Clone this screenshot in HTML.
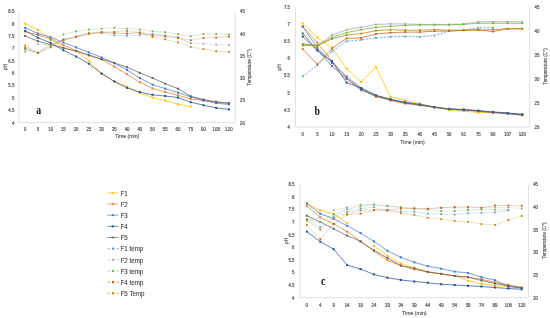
<!DOCTYPE html>
<html><head><meta charset="utf-8"><style>
html,body{margin:0;padding:0;background:#fff;}
body{width:550px;height:318px;overflow:hidden;}
svg{display:block;will-change:transform;}
text{font-family:"Liberation Sans",sans-serif;font-size:5.6px;fill:#555;stroke:#555;stroke-width:0.15px;}
text.tk{font-size:5.0px;stroke:#555;stroke-width:0.22px;}
text.leg{font-size:6.5px;fill:#3c3c3c;stroke:#3c3c3c;stroke-width:0.1px;}
text.lab{font-family:"Liberation Serif",serif;font-weight:bold;font-size:11.6px;fill:#111;stroke:none;}
</style></head><body>
<svg width="550" height="318" viewBox="0 0 550 318">
<rect width="550" height="318" fill="#fff"/>
<path d="M18.80 11.30V122.50H235.30V11.30" fill="none" stroke="#D9D9D9" stroke-width="0.8"/>
<text transform="translate(14.30 124.50) scale(0.87 1)" text-anchor="end" class="tk">4</text>
<text transform="translate(14.30 112.14) scale(0.87 1)" text-anchor="end" class="tk">4.5</text>
<text transform="translate(14.30 99.79) scale(0.87 1)" text-anchor="end" class="tk">5</text>
<text transform="translate(14.30 87.43) scale(0.87 1)" text-anchor="end" class="tk">5.5</text>
<text transform="translate(14.30 75.08) scale(0.87 1)" text-anchor="end" class="tk">6</text>
<text transform="translate(14.30 62.72) scale(0.87 1)" text-anchor="end" class="tk">6.5</text>
<text transform="translate(14.30 50.37) scale(0.87 1)" text-anchor="end" class="tk">7</text>
<text transform="translate(14.30 38.01) scale(0.87 1)" text-anchor="end" class="tk">7.5</text>
<text transform="translate(14.30 25.66) scale(0.87 1)" text-anchor="end" class="tk">8</text>
<text transform="translate(14.30 13.30) scale(0.87 1)" text-anchor="end" class="tk">8.5</text>
<text transform="translate(240.00 124.50) scale(0.87 1)" class="tk">20</text>
<text transform="translate(240.00 102.26) scale(0.87 1)" class="tk">25</text>
<text transform="translate(240.00 80.02) scale(0.87 1)" class="tk">30</text>
<text transform="translate(240.00 57.78) scale(0.87 1)" class="tk">35</text>
<text transform="translate(240.00 35.54) scale(0.87 1)" class="tk">40</text>
<text transform="translate(240.00 13.30) scale(0.87 1)" class="tk">45</text>
<text transform="translate(25.17 131.40) scale(0.87 1)" text-anchor="middle" class="tk">0</text>
<text transform="translate(37.90 131.40) scale(0.87 1)" text-anchor="middle" class="tk">5</text>
<text transform="translate(50.64 131.40) scale(0.87 1)" text-anchor="middle" class="tk">10</text>
<text transform="translate(63.37 131.40) scale(0.87 1)" text-anchor="middle" class="tk">15</text>
<text transform="translate(76.11 131.40) scale(0.87 1)" text-anchor="middle" class="tk">20</text>
<text transform="translate(88.84 131.40) scale(0.87 1)" text-anchor="middle" class="tk">25</text>
<text transform="translate(101.58 131.40) scale(0.87 1)" text-anchor="middle" class="tk">30</text>
<text transform="translate(114.31 131.40) scale(0.87 1)" text-anchor="middle" class="tk">35</text>
<text transform="translate(127.05 131.40) scale(0.87 1)" text-anchor="middle" class="tk">40</text>
<text transform="translate(139.79 131.40) scale(0.87 1)" text-anchor="middle" class="tk">45</text>
<text transform="translate(152.52 131.40) scale(0.87 1)" text-anchor="middle" class="tk">50</text>
<text transform="translate(165.26 131.40) scale(0.87 1)" text-anchor="middle" class="tk">55</text>
<text transform="translate(177.99 131.40) scale(0.87 1)" text-anchor="middle" class="tk">60</text>
<text transform="translate(190.73 131.40) scale(0.87 1)" text-anchor="middle" class="tk">75</text>
<text transform="translate(203.46 131.40) scale(0.87 1)" text-anchor="middle" class="tk">90</text>
<text transform="translate(216.20 131.40) scale(0.87 1)" text-anchor="middle" class="tk">108</text>
<text transform="translate(228.93 131.40) scale(0.87 1)" text-anchor="middle" class="tk">120</text>
<text transform="translate(127.05 138.30) scale(0.92 1)" text-anchor="middle">Time (min)</text>
<text transform="translate(4.80 67.00) rotate(-90) scale(0.87 1)" text-anchor="middle" y="1.9">pH</text>
<text transform="translate(248.70 67.50) rotate(-90) scale(0.85 1)" text-anchor="middle" y="1.9">Temperature (C°)</text>
<path d="M25.17 23.66 L37.90 29.83 L50.64 38.98 L63.37 48.12 L76.11 51.08 L88.84 60.72 L101.58 73.57 L114.31 81.48 L127.05 86.67 L139.79 93.09 L152.52 97.54 L165.26 100.51 L177.99 104.21 L190.73 106.44" fill="none" stroke="#FFC000" stroke-width="0.75"/>
<rect x="24.17" y="22.66" width="2.0" height="2.0" fill="#FFC000"/>
<rect x="36.90" y="28.83" width="2.0" height="2.0" fill="#FFC000"/>
<rect x="49.64" y="37.98" width="2.0" height="2.0" fill="#FFC000"/>
<rect x="62.37" y="47.12" width="2.0" height="2.0" fill="#FFC000"/>
<rect x="75.11" y="50.08" width="2.0" height="2.0" fill="#FFC000"/>
<rect x="87.84" y="59.72" width="2.0" height="2.0" fill="#FFC000"/>
<rect x="100.58" y="72.57" width="2.0" height="2.0" fill="#FFC000"/>
<rect x="113.31" y="80.48" width="2.0" height="2.0" fill="#FFC000"/>
<rect x="126.05" y="85.67" width="2.0" height="2.0" fill="#FFC000"/>
<rect x="138.79" y="92.09" width="2.0" height="2.0" fill="#FFC000"/>
<rect x="151.52" y="96.54" width="2.0" height="2.0" fill="#FFC000"/>
<rect x="164.26" y="99.51" width="2.0" height="2.0" fill="#FFC000"/>
<rect x="176.99" y="103.21" width="2.0" height="2.0" fill="#FFC000"/>
<rect x="189.73" y="105.44" width="2.0" height="2.0" fill="#FFC000"/>
<path d="M25.17 31.56 L37.90 35.02 L50.64 38.98 L63.37 44.91 L76.11 50.84 L88.84 55.53 L101.58 59.49 L114.31 66.65 L127.05 74.31 L139.79 82.22 L152.52 88.40 L165.26 91.86 L177.99 95.32 L190.73 99.02 L203.46 100.51 L216.20 102.24 L228.93 103.23" fill="none" stroke="#ED7D31" stroke-width="0.75"/>
<rect x="24.17" y="30.56" width="2.0" height="2.0" fill="#ED7D31"/>
<rect x="36.90" y="34.02" width="2.0" height="2.0" fill="#ED7D31"/>
<rect x="49.64" y="37.98" width="2.0" height="2.0" fill="#ED7D31"/>
<rect x="62.37" y="43.91" width="2.0" height="2.0" fill="#ED7D31"/>
<rect x="75.11" y="49.84" width="2.0" height="2.0" fill="#ED7D31"/>
<rect x="87.84" y="54.53" width="2.0" height="2.0" fill="#ED7D31"/>
<rect x="100.58" y="58.49" width="2.0" height="2.0" fill="#ED7D31"/>
<rect x="113.31" y="65.65" width="2.0" height="2.0" fill="#ED7D31"/>
<rect x="126.05" y="73.31" width="2.0" height="2.0" fill="#ED7D31"/>
<rect x="138.79" y="81.22" width="2.0" height="2.0" fill="#ED7D31"/>
<rect x="151.52" y="87.40" width="2.0" height="2.0" fill="#ED7D31"/>
<rect x="164.26" y="90.86" width="2.0" height="2.0" fill="#ED7D31"/>
<rect x="176.99" y="94.32" width="2.0" height="2.0" fill="#ED7D31"/>
<rect x="189.73" y="98.02" width="2.0" height="2.0" fill="#ED7D31"/>
<rect x="202.46" y="99.51" width="2.0" height="2.0" fill="#ED7D31"/>
<rect x="215.20" y="101.24" width="2.0" height="2.0" fill="#ED7D31"/>
<rect x="227.93" y="102.23" width="2.0" height="2.0" fill="#ED7D31"/>
<path d="M25.17 27.86 L37.90 33.54 L50.64 37.25 L63.37 42.44 L76.11 47.38 L88.84 52.32 L101.58 57.51 L114.31 63.19 L127.05 69.87 L139.79 78.02 L152.52 84.69 L165.26 88.65 L177.99 92.60 L190.73 96.80 L203.46 100.51 L216.20 103.23 L228.93 104.46" fill="none" stroke="#4A7FD4" stroke-width="0.75"/>
<rect x="24.17" y="26.86" width="2.0" height="2.0" fill="#3F76CF"/>
<rect x="36.90" y="32.54" width="2.0" height="2.0" fill="#3F76CF"/>
<rect x="49.64" y="36.25" width="2.0" height="2.0" fill="#3F76CF"/>
<rect x="62.37" y="41.44" width="2.0" height="2.0" fill="#3F76CF"/>
<rect x="75.11" y="46.38" width="2.0" height="2.0" fill="#3F76CF"/>
<rect x="87.84" y="51.32" width="2.0" height="2.0" fill="#3F76CF"/>
<rect x="100.58" y="56.51" width="2.0" height="2.0" fill="#3F76CF"/>
<rect x="113.31" y="62.19" width="2.0" height="2.0" fill="#3F76CF"/>
<rect x="126.05" y="68.87" width="2.0" height="2.0" fill="#3F76CF"/>
<rect x="138.79" y="77.02" width="2.0" height="2.0" fill="#3F76CF"/>
<rect x="151.52" y="83.69" width="2.0" height="2.0" fill="#3F76CF"/>
<rect x="164.26" y="87.65" width="2.0" height="2.0" fill="#3F76CF"/>
<rect x="176.99" y="91.60" width="2.0" height="2.0" fill="#3F76CF"/>
<rect x="189.73" y="95.80" width="2.0" height="2.0" fill="#3F76CF"/>
<rect x="202.46" y="99.51" width="2.0" height="2.0" fill="#3F76CF"/>
<rect x="215.20" y="102.23" width="2.0" height="2.0" fill="#3F76CF"/>
<rect x="227.93" y="103.46" width="2.0" height="2.0" fill="#3F76CF"/>
<path d="M25.17 30.82 L37.90 37.74 L50.64 42.93 L63.37 50.34 L76.11 56.52 L88.84 63.69 L101.58 73.57 L114.31 81.48 L127.05 87.90 L139.79 92.11 L152.52 94.82 L165.26 96.06 L177.99 97.54 L190.73 102.24 L203.46 105.20 L216.20 107.92 L228.93 109.40" fill="none" stroke="#2F5597" stroke-width="0.75"/>
<rect x="24.17" y="29.82" width="2.0" height="2.0" fill="#1F4A8F"/>
<rect x="36.90" y="36.74" width="2.0" height="2.0" fill="#1F4A8F"/>
<rect x="49.64" y="41.93" width="2.0" height="2.0" fill="#1F4A8F"/>
<rect x="62.37" y="49.34" width="2.0" height="2.0" fill="#1F4A8F"/>
<rect x="75.11" y="55.52" width="2.0" height="2.0" fill="#1F4A8F"/>
<rect x="87.84" y="62.69" width="2.0" height="2.0" fill="#1F4A8F"/>
<rect x="100.58" y="72.57" width="2.0" height="2.0" fill="#1F4A8F"/>
<rect x="113.31" y="80.48" width="2.0" height="2.0" fill="#1F4A8F"/>
<rect x="126.05" y="86.90" width="2.0" height="2.0" fill="#1F4A8F"/>
<rect x="138.79" y="91.11" width="2.0" height="2.0" fill="#1F4A8F"/>
<rect x="151.52" y="93.82" width="2.0" height="2.0" fill="#1F4A8F"/>
<rect x="164.26" y="95.06" width="2.0" height="2.0" fill="#1F4A8F"/>
<rect x="176.99" y="96.54" width="2.0" height="2.0" fill="#1F4A8F"/>
<rect x="189.73" y="101.24" width="2.0" height="2.0" fill="#1F4A8F"/>
<rect x="202.46" y="104.20" width="2.0" height="2.0" fill="#1F4A8F"/>
<rect x="215.20" y="106.92" width="2.0" height="2.0" fill="#1F4A8F"/>
<rect x="227.93" y="108.40" width="2.0" height="2.0" fill="#1F4A8F"/>
<path d="M25.17 36.01 L37.90 41.20 L50.64 44.66 L63.37 47.87 L76.11 51.08 L88.84 55.04 L101.58 58.99 L114.31 62.95 L127.05 67.15 L139.79 72.83 L152.52 78.02 L165.26 83.70 L177.99 88.65 L190.73 96.31 L203.46 99.52 L216.20 101.74 L228.93 103.23" fill="none" stroke="#636363" stroke-width="0.75"/>
<rect x="24.17" y="35.01" width="2.0" height="2.0" fill="#636363"/>
<rect x="36.90" y="40.20" width="2.0" height="2.0" fill="#636363"/>
<rect x="49.64" y="43.66" width="2.0" height="2.0" fill="#636363"/>
<rect x="62.37" y="46.87" width="2.0" height="2.0" fill="#636363"/>
<rect x="75.11" y="50.08" width="2.0" height="2.0" fill="#636363"/>
<rect x="87.84" y="54.04" width="2.0" height="2.0" fill="#636363"/>
<rect x="100.58" y="57.99" width="2.0" height="2.0" fill="#636363"/>
<rect x="113.31" y="61.95" width="2.0" height="2.0" fill="#636363"/>
<rect x="126.05" y="66.15" width="2.0" height="2.0" fill="#636363"/>
<rect x="138.79" y="71.83" width="2.0" height="2.0" fill="#636363"/>
<rect x="151.52" y="77.02" width="2.0" height="2.0" fill="#636363"/>
<rect x="164.26" y="82.70" width="2.0" height="2.0" fill="#636363"/>
<rect x="176.99" y="87.65" width="2.0" height="2.0" fill="#636363"/>
<rect x="189.73" y="95.31" width="2.0" height="2.0" fill="#636363"/>
<rect x="202.46" y="98.52" width="2.0" height="2.0" fill="#636363"/>
<rect x="215.20" y="100.74" width="2.0" height="2.0" fill="#636363"/>
<rect x="227.93" y="102.23" width="2.0" height="2.0" fill="#636363"/>
<path d="M25.17 49.11 L37.90 52.67 L50.64 45.55 L63.37 39.32 L76.11 36.21 L88.84 33.54 L101.58 33.10 L114.31 35.32 L127.05 35.76 L139.79 34.87 L152.52 33.98 L165.26 35.32 L177.99 37.10 L190.73 43.33" fill="none" stroke="#5B9BD5" stroke-width="0.65" opacity="0.38"/>
<rect x="24.29" y="48.23" width="1.75" height="1.75" fill="#5B9BD5"/>
<rect x="37.03" y="51.79" width="1.75" height="1.75" fill="#5B9BD5"/>
<rect x="49.76" y="44.67" width="1.75" height="1.75" fill="#5B9BD5"/>
<rect x="62.50" y="38.45" width="1.75" height="1.75" fill="#5B9BD5"/>
<rect x="75.23" y="35.33" width="1.75" height="1.75" fill="#5B9BD5"/>
<rect x="87.97" y="32.66" width="1.75" height="1.75" fill="#5B9BD5"/>
<rect x="100.70" y="32.22" width="1.75" height="1.75" fill="#5B9BD5"/>
<rect x="113.44" y="34.44" width="1.75" height="1.75" fill="#5B9BD5"/>
<rect x="126.17" y="34.89" width="1.75" height="1.75" fill="#5B9BD5"/>
<rect x="138.91" y="34.00" width="1.75" height="1.75" fill="#5B9BD5"/>
<rect x="151.65" y="33.11" width="1.75" height="1.75" fill="#5B9BD5"/>
<rect x="164.38" y="34.44" width="1.75" height="1.75" fill="#5B9BD5"/>
<rect x="177.12" y="36.22" width="1.75" height="1.75" fill="#5B9BD5"/>
<rect x="189.85" y="42.45" width="1.75" height="1.75" fill="#5B9BD5"/>
<path d="M25.17 51.78 L37.90 44.22 L50.64 44.66 L63.37 40.21 L76.11 37.10 L88.84 33.54 L101.58 32.65 L114.31 33.54 L127.05 33.54 L139.79 32.65 L152.52 34.87 L165.26 35.76 L177.99 37.54 L190.73 43.33 L203.46 43.77 L216.20 44.66 L228.93 45.10" fill="none" stroke="#A5A5A5" stroke-width="0.65" opacity="0.38"/>
<rect x="24.29" y="50.90" width="1.75" height="1.75" fill="#A5A5A5"/>
<rect x="37.03" y="43.34" width="1.75" height="1.75" fill="#A5A5A5"/>
<rect x="49.76" y="43.78" width="1.75" height="1.75" fill="#A5A5A5"/>
<rect x="62.50" y="39.34" width="1.75" height="1.75" fill="#A5A5A5"/>
<rect x="75.23" y="36.22" width="1.75" height="1.75" fill="#A5A5A5"/>
<rect x="87.97" y="32.66" width="1.75" height="1.75" fill="#A5A5A5"/>
<rect x="100.70" y="31.78" width="1.75" height="1.75" fill="#A5A5A5"/>
<rect x="113.44" y="32.66" width="1.75" height="1.75" fill="#A5A5A5"/>
<rect x="126.17" y="32.66" width="1.75" height="1.75" fill="#A5A5A5"/>
<rect x="138.91" y="31.78" width="1.75" height="1.75" fill="#A5A5A5"/>
<rect x="151.65" y="34.00" width="1.75" height="1.75" fill="#A5A5A5"/>
<rect x="164.38" y="34.89" width="1.75" height="1.75" fill="#A5A5A5"/>
<rect x="177.12" y="36.67" width="1.75" height="1.75" fill="#A5A5A5"/>
<rect x="189.85" y="42.45" width="1.75" height="1.75" fill="#A5A5A5"/>
<rect x="202.59" y="42.90" width="1.75" height="1.75" fill="#A5A5A5"/>
<rect x="215.32" y="43.78" width="1.75" height="1.75" fill="#A5A5A5"/>
<rect x="228.06" y="44.23" width="1.75" height="1.75" fill="#A5A5A5"/>
<path d="M25.17 49.55 L37.90 53.11 L50.64 40.21 L63.37 34.43 L76.11 31.32 L88.84 29.54 L101.58 28.65 L114.31 27.76 L127.05 28.65 L139.79 29.54 L152.52 31.32 L165.26 32.21 L177.99 33.98 L190.73 36.21 L203.46 33.98 L216.20 33.98 L228.93 34.43" fill="none" stroke="#70AD47" stroke-width="0.65" opacity="0.38"/>
<rect x="24.29" y="48.68" width="1.75" height="1.75" fill="#70AD47"/>
<rect x="37.03" y="52.24" width="1.75" height="1.75" fill="#70AD47"/>
<rect x="49.76" y="39.34" width="1.75" height="1.75" fill="#70AD47"/>
<rect x="62.50" y="33.55" width="1.75" height="1.75" fill="#70AD47"/>
<rect x="75.23" y="30.44" width="1.75" height="1.75" fill="#70AD47"/>
<rect x="87.97" y="28.66" width="1.75" height="1.75" fill="#70AD47"/>
<rect x="100.70" y="27.77" width="1.75" height="1.75" fill="#70AD47"/>
<rect x="113.44" y="26.88" width="1.75" height="1.75" fill="#70AD47"/>
<rect x="126.17" y="27.77" width="1.75" height="1.75" fill="#70AD47"/>
<rect x="138.91" y="28.66" width="1.75" height="1.75" fill="#70AD47"/>
<rect x="151.65" y="30.44" width="1.75" height="1.75" fill="#70AD47"/>
<rect x="164.38" y="31.33" width="1.75" height="1.75" fill="#70AD47"/>
<rect x="177.12" y="33.11" width="1.75" height="1.75" fill="#70AD47"/>
<rect x="189.85" y="35.33" width="1.75" height="1.75" fill="#70AD47"/>
<rect x="202.59" y="33.11" width="1.75" height="1.75" fill="#70AD47"/>
<rect x="215.32" y="33.11" width="1.75" height="1.75" fill="#70AD47"/>
<rect x="228.06" y="33.55" width="1.75" height="1.75" fill="#70AD47"/>
<path d="M25.17 47.77 L37.90 53.11 L50.64 47.33 L63.37 39.77 L76.11 37.10 L88.84 33.54 L101.58 32.21 L114.31 32.65 L127.05 33.54 L139.79 32.65 L152.52 35.32 L165.26 36.65 L177.99 37.99 L190.73 40.21 L203.46 37.99 L216.20 37.54 L228.93 36.65" fill="none" stroke="#C55A11" stroke-width="0.65" opacity="0.38"/>
<rect x="24.29" y="46.90" width="1.75" height="1.75" fill="#C55A11"/>
<rect x="37.03" y="52.24" width="1.75" height="1.75" fill="#C55A11"/>
<rect x="49.76" y="46.45" width="1.75" height="1.75" fill="#C55A11"/>
<rect x="62.50" y="38.89" width="1.75" height="1.75" fill="#C55A11"/>
<rect x="75.23" y="36.22" width="1.75" height="1.75" fill="#C55A11"/>
<rect x="87.97" y="32.66" width="1.75" height="1.75" fill="#C55A11"/>
<rect x="100.70" y="31.33" width="1.75" height="1.75" fill="#C55A11"/>
<rect x="113.44" y="31.78" width="1.75" height="1.75" fill="#C55A11"/>
<rect x="126.17" y="32.66" width="1.75" height="1.75" fill="#C55A11"/>
<rect x="138.91" y="31.78" width="1.75" height="1.75" fill="#C55A11"/>
<rect x="151.65" y="34.44" width="1.75" height="1.75" fill="#C55A11"/>
<rect x="164.38" y="35.78" width="1.75" height="1.75" fill="#C55A11"/>
<rect x="177.12" y="37.11" width="1.75" height="1.75" fill="#C55A11"/>
<rect x="189.85" y="39.34" width="1.75" height="1.75" fill="#C55A11"/>
<rect x="202.59" y="37.11" width="1.75" height="1.75" fill="#C55A11"/>
<rect x="215.32" y="36.67" width="1.75" height="1.75" fill="#C55A11"/>
<rect x="228.06" y="35.78" width="1.75" height="1.75" fill="#C55A11"/>
<path d="M25.17 45.55 L37.90 53.11 L50.64 44.66 L63.37 39.77 L76.11 37.10 L88.84 33.54 L101.58 32.21 L114.31 31.76 L127.05 30.87 L139.79 32.65 L152.52 37.10 L165.26 39.32 L177.99 42.44 L190.73 46.88 L203.46 49.11 L216.20 51.33 L228.93 51.78" fill="none" stroke="#B08200" stroke-width="0.65" opacity="0.38"/>
<rect x="24.29" y="44.67" width="1.75" height="1.75" fill="#B08200"/>
<rect x="37.03" y="52.24" width="1.75" height="1.75" fill="#B08200"/>
<rect x="49.76" y="43.78" width="1.75" height="1.75" fill="#B08200"/>
<rect x="62.50" y="38.89" width="1.75" height="1.75" fill="#B08200"/>
<rect x="75.23" y="36.22" width="1.75" height="1.75" fill="#B08200"/>
<rect x="87.97" y="32.66" width="1.75" height="1.75" fill="#B08200"/>
<rect x="100.70" y="31.33" width="1.75" height="1.75" fill="#B08200"/>
<rect x="113.44" y="30.89" width="1.75" height="1.75" fill="#B08200"/>
<rect x="126.17" y="30.00" width="1.75" height="1.75" fill="#B08200"/>
<rect x="138.91" y="31.78" width="1.75" height="1.75" fill="#B08200"/>
<rect x="151.65" y="36.22" width="1.75" height="1.75" fill="#B08200"/>
<rect x="164.38" y="38.45" width="1.75" height="1.75" fill="#B08200"/>
<rect x="177.12" y="41.56" width="1.75" height="1.75" fill="#B08200"/>
<rect x="189.85" y="46.01" width="1.75" height="1.75" fill="#B08200"/>
<rect x="202.59" y="48.23" width="1.75" height="1.75" fill="#B08200"/>
<rect x="215.32" y="50.46" width="1.75" height="1.75" fill="#B08200"/>
<rect x="228.06" y="50.90" width="1.75" height="1.75" fill="#B08200"/>
<text class="lab" transform="translate(38.80 114.30) scale(0.85 1)" text-anchor="middle">a</text>
<path d="M295.40 6.60V127.00H529.60V6.60" fill="none" stroke="#D9D9D9" stroke-width="0.8"/>
<text transform="translate(290.00 129.00) scale(0.87 1)" text-anchor="end" class="tk">4</text>
<text transform="translate(290.00 111.80) scale(0.87 1)" text-anchor="end" class="tk">4.5</text>
<text transform="translate(290.00 94.60) scale(0.87 1)" text-anchor="end" class="tk">5</text>
<text transform="translate(290.00 77.40) scale(0.87 1)" text-anchor="end" class="tk">5.5</text>
<text transform="translate(290.00 60.20) scale(0.87 1)" text-anchor="end" class="tk">6</text>
<text transform="translate(290.00 43.00) scale(0.87 1)" text-anchor="end" class="tk">6.5</text>
<text transform="translate(290.00 25.80) scale(0.87 1)" text-anchor="end" class="tk">7</text>
<text transform="translate(290.00 8.60) scale(0.87 1)" text-anchor="end" class="tk">7.5</text>
<text transform="translate(534.50 129.00) scale(0.87 1)" class="tk">20</text>
<text transform="translate(534.50 104.92) scale(0.87 1)" class="tk">25</text>
<text transform="translate(534.50 80.84) scale(0.87 1)" class="tk">30</text>
<text transform="translate(534.50 56.76) scale(0.87 1)" class="tk">35</text>
<text transform="translate(534.50 32.68) scale(0.87 1)" class="tk">40</text>
<text transform="translate(534.50 8.60) scale(0.87 1)" class="tk">45</text>
<text transform="translate(302.72 136.10) scale(0.87 1)" text-anchor="middle" class="tk">0</text>
<text transform="translate(317.36 136.10) scale(0.87 1)" text-anchor="middle" class="tk">5</text>
<text transform="translate(331.99 136.10) scale(0.87 1)" text-anchor="middle" class="tk">10</text>
<text transform="translate(346.63 136.10) scale(0.87 1)" text-anchor="middle" class="tk">15</text>
<text transform="translate(361.27 136.10) scale(0.87 1)" text-anchor="middle" class="tk">20</text>
<text transform="translate(375.91 136.10) scale(0.87 1)" text-anchor="middle" class="tk">25</text>
<text transform="translate(390.54 136.10) scale(0.87 1)" text-anchor="middle" class="tk">30</text>
<text transform="translate(405.18 136.10) scale(0.87 1)" text-anchor="middle" class="tk">35</text>
<text transform="translate(419.82 136.10) scale(0.87 1)" text-anchor="middle" class="tk">40</text>
<text transform="translate(434.46 136.10) scale(0.87 1)" text-anchor="middle" class="tk">45</text>
<text transform="translate(449.09 136.10) scale(0.87 1)" text-anchor="middle" class="tk">50</text>
<text transform="translate(463.73 136.10) scale(0.87 1)" text-anchor="middle" class="tk">61</text>
<text transform="translate(478.37 136.10) scale(0.87 1)" text-anchor="middle" class="tk">75</text>
<text transform="translate(493.01 136.10) scale(0.87 1)" text-anchor="middle" class="tk">90</text>
<text transform="translate(507.64 136.10) scale(0.87 1)" text-anchor="middle" class="tk">107</text>
<text transform="translate(522.28 136.10) scale(0.87 1)" text-anchor="middle" class="tk">120</text>
<text transform="translate(412.50 144.20) scale(0.92 1)" text-anchor="middle">Time (min)</text>
<text transform="translate(279.20 67.40) rotate(-90) scale(0.87 1)" text-anchor="middle" y="1.9">pH</text>
<text transform="translate(545.20 66.50) rotate(-90) scale(0.85 1)" text-anchor="middle" y="1.9">Temperature (C°)</text>
<path d="M302.72 23.46 L317.36 37.56 L331.99 47.54 L346.63 68.86 L361.27 81.94 L375.91 67.14 L390.54 96.73 L405.18 100.51 L419.82 103.61 L434.46 107.05 L449.09 109.80 L463.73 111.18 L478.37 112.55 L493.01 112.21 L507.64 113.24 L522.28 114.62" fill="none" stroke="#FFC000" stroke-width="0.75"/>
<rect x="301.72" y="22.46" width="2.0" height="2.0" fill="#FFC000"/>
<rect x="316.36" y="36.56" width="2.0" height="2.0" fill="#FFC000"/>
<rect x="330.99" y="46.54" width="2.0" height="2.0" fill="#FFC000"/>
<rect x="345.63" y="67.86" width="2.0" height="2.0" fill="#FFC000"/>
<rect x="360.27" y="80.94" width="2.0" height="2.0" fill="#FFC000"/>
<rect x="374.91" y="66.14" width="2.0" height="2.0" fill="#FFC000"/>
<rect x="389.54" y="95.73" width="2.0" height="2.0" fill="#FFC000"/>
<rect x="404.18" y="99.51" width="2.0" height="2.0" fill="#FFC000"/>
<rect x="418.82" y="102.61" width="2.0" height="2.0" fill="#FFC000"/>
<rect x="433.46" y="106.05" width="2.0" height="2.0" fill="#FFC000"/>
<rect x="448.09" y="108.80" width="2.0" height="2.0" fill="#FFC000"/>
<rect x="462.73" y="110.18" width="2.0" height="2.0" fill="#FFC000"/>
<rect x="477.37" y="111.55" width="2.0" height="2.0" fill="#FFC000"/>
<rect x="492.01" y="111.21" width="2.0" height="2.0" fill="#FFC000"/>
<rect x="506.64" y="112.24" width="2.0" height="2.0" fill="#FFC000"/>
<rect x="521.28" y="113.62" width="2.0" height="2.0" fill="#FFC000"/>
<path d="M302.72 26.55 L317.36 42.72 L331.99 60.95 L346.63 78.15 L361.27 89.16 L375.91 96.73 L390.54 100.51 L405.18 103.61 L419.82 105.33 L434.46 107.39 L449.09 109.11 L463.73 110.14 L478.37 111.18 L493.01 112.55 L507.64 113.58 L522.28 115.30" fill="none" stroke="#ED7D31" stroke-width="0.75"/>
<rect x="301.72" y="25.55" width="2.0" height="2.0" fill="#ED7D31"/>
<rect x="316.36" y="41.72" width="2.0" height="2.0" fill="#ED7D31"/>
<rect x="330.99" y="59.95" width="2.0" height="2.0" fill="#ED7D31"/>
<rect x="345.63" y="77.15" width="2.0" height="2.0" fill="#ED7D31"/>
<rect x="360.27" y="88.16" width="2.0" height="2.0" fill="#ED7D31"/>
<rect x="374.91" y="95.73" width="2.0" height="2.0" fill="#ED7D31"/>
<rect x="389.54" y="99.51" width="2.0" height="2.0" fill="#ED7D31"/>
<rect x="404.18" y="102.61" width="2.0" height="2.0" fill="#ED7D31"/>
<rect x="418.82" y="104.33" width="2.0" height="2.0" fill="#ED7D31"/>
<rect x="433.46" y="106.39" width="2.0" height="2.0" fill="#ED7D31"/>
<rect x="448.09" y="108.11" width="2.0" height="2.0" fill="#ED7D31"/>
<rect x="462.73" y="109.14" width="2.0" height="2.0" fill="#ED7D31"/>
<rect x="477.37" y="110.18" width="2.0" height="2.0" fill="#ED7D31"/>
<rect x="492.01" y="111.55" width="2.0" height="2.0" fill="#ED7D31"/>
<rect x="506.64" y="112.58" width="2.0" height="2.0" fill="#ED7D31"/>
<rect x="521.28" y="114.30" width="2.0" height="2.0" fill="#ED7D31"/>
<path d="M302.72 26.55 L317.36 47.88 L331.99 63.02 L346.63 76.43 L361.27 88.13 L375.91 95.35 L390.54 99.14 L405.18 102.23 L419.82 104.30 L434.46 107.05 L449.09 108.77 L463.73 109.46 L478.37 110.49 L493.01 111.86 L507.64 112.90 L522.28 114.27" fill="none" stroke="#4A7FD4" stroke-width="0.75"/>
<rect x="301.72" y="25.55" width="2.0" height="2.0" fill="#3F76CF"/>
<rect x="316.36" y="46.88" width="2.0" height="2.0" fill="#3F76CF"/>
<rect x="330.99" y="62.02" width="2.0" height="2.0" fill="#3F76CF"/>
<rect x="345.63" y="75.43" width="2.0" height="2.0" fill="#3F76CF"/>
<rect x="360.27" y="87.13" width="2.0" height="2.0" fill="#3F76CF"/>
<rect x="374.91" y="94.35" width="2.0" height="2.0" fill="#3F76CF"/>
<rect x="389.54" y="98.14" width="2.0" height="2.0" fill="#3F76CF"/>
<rect x="404.18" y="101.23" width="2.0" height="2.0" fill="#3F76CF"/>
<rect x="418.82" y="103.30" width="2.0" height="2.0" fill="#3F76CF"/>
<rect x="433.46" y="106.05" width="2.0" height="2.0" fill="#3F76CF"/>
<rect x="448.09" y="107.77" width="2.0" height="2.0" fill="#3F76CF"/>
<rect x="462.73" y="108.46" width="2.0" height="2.0" fill="#3F76CF"/>
<rect x="477.37" y="109.49" width="2.0" height="2.0" fill="#3F76CF"/>
<rect x="492.01" y="110.86" width="2.0" height="2.0" fill="#3F76CF"/>
<rect x="506.64" y="111.90" width="2.0" height="2.0" fill="#3F76CF"/>
<rect x="521.28" y="113.27" width="2.0" height="2.0" fill="#3F76CF"/>
<path d="M302.72 36.53 L317.36 50.63 L331.99 61.30 L346.63 82.62 L361.27 88.13 L375.91 95.35 L390.54 99.48 L405.18 102.58 L419.82 104.64 L434.46 107.05 L449.09 109.11 L463.73 109.80 L478.37 110.83 L493.01 112.21 L507.64 113.24 L522.28 114.62" fill="none" stroke="#2F5597" stroke-width="0.75"/>
<rect x="301.72" y="35.53" width="2.0" height="2.0" fill="#1F4A8F"/>
<rect x="316.36" y="49.63" width="2.0" height="2.0" fill="#1F4A8F"/>
<rect x="330.99" y="60.30" width="2.0" height="2.0" fill="#1F4A8F"/>
<rect x="345.63" y="81.62" width="2.0" height="2.0" fill="#1F4A8F"/>
<rect x="360.27" y="87.13" width="2.0" height="2.0" fill="#1F4A8F"/>
<rect x="374.91" y="94.35" width="2.0" height="2.0" fill="#1F4A8F"/>
<rect x="389.54" y="98.48" width="2.0" height="2.0" fill="#1F4A8F"/>
<rect x="404.18" y="101.58" width="2.0" height="2.0" fill="#1F4A8F"/>
<rect x="418.82" y="103.64" width="2.0" height="2.0" fill="#1F4A8F"/>
<rect x="433.46" y="106.05" width="2.0" height="2.0" fill="#1F4A8F"/>
<rect x="448.09" y="108.11" width="2.0" height="2.0" fill="#1F4A8F"/>
<rect x="462.73" y="108.80" width="2.0" height="2.0" fill="#1F4A8F"/>
<rect x="477.37" y="109.83" width="2.0" height="2.0" fill="#1F4A8F"/>
<rect x="492.01" y="111.21" width="2.0" height="2.0" fill="#1F4A8F"/>
<rect x="506.64" y="112.24" width="2.0" height="2.0" fill="#1F4A8F"/>
<rect x="521.28" y="113.62" width="2.0" height="2.0" fill="#1F4A8F"/>
<path d="M302.72 33.43 L317.36 49.94 L331.99 66.11 L346.63 78.84 L361.27 90.19 L375.91 96.04 L390.54 99.82 L405.18 102.92 L419.82 104.98 L434.46 107.39 L449.09 109.11 L463.73 109.80 L478.37 111.18 L493.01 112.55 L507.64 113.58 L522.28 114.96" fill="none" stroke="#636363" stroke-width="0.75"/>
<rect x="301.72" y="32.43" width="2.0" height="2.0" fill="#636363"/>
<rect x="316.36" y="48.94" width="2.0" height="2.0" fill="#636363"/>
<rect x="330.99" y="65.11" width="2.0" height="2.0" fill="#636363"/>
<rect x="345.63" y="77.84" width="2.0" height="2.0" fill="#636363"/>
<rect x="360.27" y="89.19" width="2.0" height="2.0" fill="#636363"/>
<rect x="374.91" y="95.04" width="2.0" height="2.0" fill="#636363"/>
<rect x="389.54" y="98.82" width="2.0" height="2.0" fill="#636363"/>
<rect x="404.18" y="101.92" width="2.0" height="2.0" fill="#636363"/>
<rect x="418.82" y="103.98" width="2.0" height="2.0" fill="#636363"/>
<rect x="433.46" y="106.39" width="2.0" height="2.0" fill="#636363"/>
<rect x="448.09" y="108.11" width="2.0" height="2.0" fill="#636363"/>
<rect x="462.73" y="108.80" width="2.0" height="2.0" fill="#636363"/>
<rect x="477.37" y="110.18" width="2.0" height="2.0" fill="#636363"/>
<rect x="492.01" y="111.55" width="2.0" height="2.0" fill="#636363"/>
<rect x="506.64" y="112.58" width="2.0" height="2.0" fill="#636363"/>
<rect x="521.28" y="113.96" width="2.0" height="2.0" fill="#636363"/>
<path d="M302.72 76.43 L317.36 65.36 L331.99 51.39 L346.63 41.28 L361.27 39.83 L375.91 37.90 L390.54 36.94 L405.18 36.46 L419.82 36.94 L434.46 35.50 L449.09 31.16 L463.73 30.20 L478.37 27.79 L493.01 27.79" fill="none" stroke="#5B9BD5" stroke-width="0.9" stroke-dasharray="2 1.6" opacity="1"/>
<rect x="301.84" y="75.56" width="1.75" height="1.75" fill="#5B9BD5"/>
<rect x="316.48" y="64.48" width="1.75" height="1.75" fill="#5B9BD5"/>
<rect x="331.12" y="50.51" width="1.75" height="1.75" fill="#5B9BD5"/>
<rect x="345.76" y="40.40" width="1.75" height="1.75" fill="#5B9BD5"/>
<rect x="360.39" y="38.96" width="1.75" height="1.75" fill="#5B9BD5"/>
<rect x="375.03" y="37.03" width="1.75" height="1.75" fill="#5B9BD5"/>
<rect x="389.67" y="36.07" width="1.75" height="1.75" fill="#5B9BD5"/>
<rect x="404.31" y="35.58" width="1.75" height="1.75" fill="#5B9BD5"/>
<rect x="418.94" y="36.07" width="1.75" height="1.75" fill="#5B9BD5"/>
<rect x="433.58" y="34.62" width="1.75" height="1.75" fill="#5B9BD5"/>
<rect x="448.22" y="30.29" width="1.75" height="1.75" fill="#5B9BD5"/>
<rect x="462.86" y="29.32" width="1.75" height="1.75" fill="#5B9BD5"/>
<rect x="477.49" y="26.92" width="1.75" height="1.75" fill="#5B9BD5"/>
<rect x="492.13" y="26.92" width="1.75" height="1.75" fill="#5B9BD5"/>
<path d="M302.72 43.68 L317.36 45.61 L331.99 35.01 L346.63 29.72 L361.27 27.31 L375.91 24.42 L390.54 23.94 L405.18 23.94 L419.82 24.42 L434.46 24.42 L449.09 24.42 L463.73 23.94 L478.37 21.77 L493.01 21.77 L507.64 21.77 L522.28 21.77" fill="none" stroke="#A5A5A5" stroke-width="0.9" opacity="0.8"/>
<rect x="301.84" y="42.81" width="1.75" height="1.75" fill="#A5A5A5"/>
<rect x="316.48" y="44.73" width="1.75" height="1.75" fill="#A5A5A5"/>
<rect x="331.12" y="34.14" width="1.75" height="1.75" fill="#A5A5A5"/>
<rect x="345.76" y="28.84" width="1.75" height="1.75" fill="#A5A5A5"/>
<rect x="360.39" y="26.43" width="1.75" height="1.75" fill="#A5A5A5"/>
<rect x="375.03" y="23.54" width="1.75" height="1.75" fill="#A5A5A5"/>
<rect x="389.67" y="23.06" width="1.75" height="1.75" fill="#A5A5A5"/>
<rect x="404.31" y="23.06" width="1.75" height="1.75" fill="#A5A5A5"/>
<rect x="418.94" y="23.54" width="1.75" height="1.75" fill="#A5A5A5"/>
<rect x="433.58" y="23.54" width="1.75" height="1.75" fill="#A5A5A5"/>
<rect x="448.22" y="23.54" width="1.75" height="1.75" fill="#A5A5A5"/>
<rect x="462.86" y="23.06" width="1.75" height="1.75" fill="#A5A5A5"/>
<rect x="477.49" y="20.90" width="1.75" height="1.75" fill="#A5A5A5"/>
<rect x="492.13" y="20.90" width="1.75" height="1.75" fill="#A5A5A5"/>
<rect x="506.77" y="20.90" width="1.75" height="1.75" fill="#A5A5A5"/>
<rect x="521.41" y="20.90" width="1.75" height="1.75" fill="#A5A5A5"/>
<path d="M302.72 45.61 L317.36 45.61 L331.99 37.42 L346.63 32.61 L361.27 29.72 L375.91 27.31 L390.54 26.35 L405.18 25.38 L419.82 24.90 L434.46 24.90 L449.09 24.90 L463.73 24.42 L478.37 23.22 L493.01 23.22 L507.64 23.22 L522.28 23.22" fill="none" stroke="#70AD47" stroke-width="0.9" opacity="0.8"/>
<rect x="301.84" y="44.73" width="1.75" height="1.75" fill="#70AD47"/>
<rect x="316.48" y="44.73" width="1.75" height="1.75" fill="#70AD47"/>
<rect x="331.12" y="36.55" width="1.75" height="1.75" fill="#70AD47"/>
<rect x="345.76" y="31.73" width="1.75" height="1.75" fill="#70AD47"/>
<rect x="360.39" y="28.84" width="1.75" height="1.75" fill="#70AD47"/>
<rect x="375.03" y="26.43" width="1.75" height="1.75" fill="#70AD47"/>
<rect x="389.67" y="25.47" width="1.75" height="1.75" fill="#70AD47"/>
<rect x="404.31" y="24.51" width="1.75" height="1.75" fill="#70AD47"/>
<rect x="418.94" y="24.03" width="1.75" height="1.75" fill="#70AD47"/>
<rect x="433.58" y="24.03" width="1.75" height="1.75" fill="#70AD47"/>
<rect x="448.22" y="24.03" width="1.75" height="1.75" fill="#70AD47"/>
<rect x="462.86" y="23.54" width="1.75" height="1.75" fill="#70AD47"/>
<rect x="477.49" y="22.34" width="1.75" height="1.75" fill="#70AD47"/>
<rect x="492.13" y="22.34" width="1.75" height="1.75" fill="#70AD47"/>
<rect x="506.77" y="22.34" width="1.75" height="1.75" fill="#70AD47"/>
<rect x="521.41" y="22.34" width="1.75" height="1.75" fill="#70AD47"/>
<path d="M302.72 48.98 L317.36 64.39 L331.99 48.50 L346.63 38.39 L361.27 37.90 L375.91 34.05 L390.54 32.61 L405.18 32.12 L419.82 32.12 L434.46 31.16 L449.09 31.16 L463.73 30.20 L478.37 29.72 L493.01 31.64 L507.64 28.75 L522.28 28.75" fill="none" stroke="#C55A11" stroke-width="0.9" opacity="0.8"/>
<rect x="301.84" y="48.11" width="1.75" height="1.75" fill="#C55A11"/>
<rect x="316.48" y="63.52" width="1.75" height="1.75" fill="#C55A11"/>
<rect x="331.12" y="47.62" width="1.75" height="1.75" fill="#C55A11"/>
<rect x="345.76" y="37.51" width="1.75" height="1.75" fill="#C55A11"/>
<rect x="360.39" y="37.03" width="1.75" height="1.75" fill="#C55A11"/>
<rect x="375.03" y="33.18" width="1.75" height="1.75" fill="#C55A11"/>
<rect x="389.67" y="31.73" width="1.75" height="1.75" fill="#C55A11"/>
<rect x="404.31" y="31.25" width="1.75" height="1.75" fill="#C55A11"/>
<rect x="418.94" y="31.25" width="1.75" height="1.75" fill="#C55A11"/>
<rect x="433.58" y="30.29" width="1.75" height="1.75" fill="#C55A11"/>
<rect x="448.22" y="30.29" width="1.75" height="1.75" fill="#C55A11"/>
<rect x="462.86" y="29.32" width="1.75" height="1.75" fill="#C55A11"/>
<rect x="477.49" y="28.84" width="1.75" height="1.75" fill="#C55A11"/>
<rect x="492.13" y="30.77" width="1.75" height="1.75" fill="#C55A11"/>
<rect x="506.77" y="27.88" width="1.75" height="1.75" fill="#C55A11"/>
<rect x="521.41" y="27.88" width="1.75" height="1.75" fill="#C55A11"/>
<path d="M302.72 44.65 L317.36 45.61 L331.99 38.87 L346.63 35.01 L361.27 33.57 L375.91 30.68 L390.54 29.72 L405.18 30.20 L419.82 30.20 L434.46 29.72 L449.09 30.20 L463.73 30.20 L478.37 30.20 L493.01 29.72 L507.64 28.75 L522.28 28.75" fill="none" stroke="#B08200" stroke-width="0.9" opacity="0.8"/>
<rect x="301.84" y="43.77" width="1.75" height="1.75" fill="#B08200"/>
<rect x="316.48" y="44.73" width="1.75" height="1.75" fill="#B08200"/>
<rect x="331.12" y="37.99" width="1.75" height="1.75" fill="#B08200"/>
<rect x="345.76" y="34.14" width="1.75" height="1.75" fill="#B08200"/>
<rect x="360.39" y="32.69" width="1.75" height="1.75" fill="#B08200"/>
<rect x="375.03" y="29.80" width="1.75" height="1.75" fill="#B08200"/>
<rect x="389.67" y="28.84" width="1.75" height="1.75" fill="#B08200"/>
<rect x="404.31" y="29.32" width="1.75" height="1.75" fill="#B08200"/>
<rect x="418.94" y="29.32" width="1.75" height="1.75" fill="#B08200"/>
<rect x="433.58" y="28.84" width="1.75" height="1.75" fill="#B08200"/>
<rect x="448.22" y="29.32" width="1.75" height="1.75" fill="#B08200"/>
<rect x="462.86" y="29.32" width="1.75" height="1.75" fill="#B08200"/>
<rect x="477.49" y="29.32" width="1.75" height="1.75" fill="#B08200"/>
<rect x="492.13" y="28.84" width="1.75" height="1.75" fill="#B08200"/>
<rect x="506.77" y="27.88" width="1.75" height="1.75" fill="#B08200"/>
<rect x="521.41" y="27.88" width="1.75" height="1.75" fill="#B08200"/>
<text class="lab" transform="translate(317.30 114.90) scale(0.85 1)" text-anchor="middle">b</text>
<path d="M300.10 184.20V297.60H528.50V184.20" fill="none" stroke="#D9D9D9" stroke-width="0.8"/>
<text transform="translate(294.50 299.60) scale(0.87 1)" text-anchor="end" class="tk">4</text>
<text transform="translate(294.50 287.00) scale(0.87 1)" text-anchor="end" class="tk">4.5</text>
<text transform="translate(294.50 274.40) scale(0.87 1)" text-anchor="end" class="tk">5</text>
<text transform="translate(294.50 261.80) scale(0.87 1)" text-anchor="end" class="tk">5.5</text>
<text transform="translate(294.50 249.20) scale(0.87 1)" text-anchor="end" class="tk">6</text>
<text transform="translate(294.50 236.60) scale(0.87 1)" text-anchor="end" class="tk">6.5</text>
<text transform="translate(294.50 224.00) scale(0.87 1)" text-anchor="end" class="tk">7</text>
<text transform="translate(294.50 211.40) scale(0.87 1)" text-anchor="end" class="tk">7.5</text>
<text transform="translate(294.50 198.80) scale(0.87 1)" text-anchor="end" class="tk">8</text>
<text transform="translate(294.50 186.20) scale(0.87 1)" text-anchor="end" class="tk">8.5</text>
<text transform="translate(533.20 299.60) scale(0.87 1)" class="tk">20</text>
<text transform="translate(533.20 276.92) scale(0.87 1)" class="tk">25</text>
<text transform="translate(533.20 254.24) scale(0.87 1)" class="tk">30</text>
<text transform="translate(533.20 231.56) scale(0.87 1)" class="tk">35</text>
<text transform="translate(533.20 208.88) scale(0.87 1)" class="tk">40</text>
<text transform="translate(533.20 186.20) scale(0.87 1)" class="tk">45</text>
<text transform="translate(306.82 306.60) scale(0.87 1)" text-anchor="middle" class="tk">0</text>
<text transform="translate(320.25 306.60) scale(0.87 1)" text-anchor="middle" class="tk">4</text>
<text transform="translate(333.69 306.60) scale(0.87 1)" text-anchor="middle" class="tk">9</text>
<text transform="translate(347.12 306.60) scale(0.87 1)" text-anchor="middle" class="tk">14</text>
<text transform="translate(360.56 306.60) scale(0.87 1)" text-anchor="middle" class="tk">19</text>
<text transform="translate(373.99 306.60) scale(0.87 1)" text-anchor="middle" class="tk">24</text>
<text transform="translate(387.43 306.60) scale(0.87 1)" text-anchor="middle" class="tk">29</text>
<text transform="translate(400.86 306.60) scale(0.87 1)" text-anchor="middle" class="tk">34</text>
<text transform="translate(414.30 306.60) scale(0.87 1)" text-anchor="middle" class="tk">39</text>
<text transform="translate(427.74 306.60) scale(0.87 1)" text-anchor="middle" class="tk">44</text>
<text transform="translate(441.17 306.60) scale(0.87 1)" text-anchor="middle" class="tk">49</text>
<text transform="translate(454.61 306.60) scale(0.87 1)" text-anchor="middle" class="tk">54</text>
<text transform="translate(468.04 306.60) scale(0.87 1)" text-anchor="middle" class="tk">59</text>
<text transform="translate(481.48 306.60) scale(0.87 1)" text-anchor="middle" class="tk">74</text>
<text transform="translate(494.91 306.60) scale(0.87 1)" text-anchor="middle" class="tk">89</text>
<text transform="translate(508.35 306.60) scale(0.87 1)" text-anchor="middle" class="tk">106</text>
<text transform="translate(521.78 306.60) scale(0.87 1)" text-anchor="middle" class="tk">120</text>
<text transform="translate(414.30 314.50) scale(0.92 1)" text-anchor="middle">Time (min)</text>
<text transform="translate(285.70 240.90) rotate(-90) scale(0.87 1)" text-anchor="middle" y="1.9">pH</text>
<text transform="translate(544.20 240.60) rotate(-90) scale(0.85 1)" text-anchor="middle" y="1.9">Temperature (C°)</text>
<path d="M306.82 203.60 L320.25 210.16 L333.69 213.94 L347.12 223.01" fill="none" stroke="#FFC000" stroke-width="0.75"/>
<rect x="305.82" y="202.60" width="2.0" height="2.0" fill="#FFC000"/>
<rect x="319.25" y="209.16" width="2.0" height="2.0" fill="#FFC000"/>
<rect x="332.69" y="212.94" width="2.0" height="2.0" fill="#FFC000"/>
<rect x="346.12" y="222.01" width="2.0" height="2.0" fill="#FFC000"/>
<path d="M373.99 245.94 L387.43 255.77 L400.86 263.58 L414.30 267.61 L427.74 271.90 L441.17 273.91 L454.61 275.93 L468.04 280.72 L481.48 283.74 L494.91 285.50 L508.35 286.51 L521.78 287.52" fill="none" stroke="#FFC000" stroke-width="0.75"/>
<rect x="372.99" y="244.94" width="2.0" height="2.0" fill="#FFC000"/>
<rect x="386.43" y="254.77" width="2.0" height="2.0" fill="#FFC000"/>
<rect x="399.86" y="262.58" width="2.0" height="2.0" fill="#FFC000"/>
<rect x="413.30" y="266.61" width="2.0" height="2.0" fill="#FFC000"/>
<rect x="426.74" y="270.90" width="2.0" height="2.0" fill="#FFC000"/>
<rect x="440.17" y="272.91" width="2.0" height="2.0" fill="#FFC000"/>
<rect x="453.61" y="274.93" width="2.0" height="2.0" fill="#FFC000"/>
<rect x="467.04" y="279.72" width="2.0" height="2.0" fill="#FFC000"/>
<rect x="480.48" y="282.74" width="2.0" height="2.0" fill="#FFC000"/>
<rect x="493.91" y="284.50" width="2.0" height="2.0" fill="#FFC000"/>
<rect x="507.35" y="285.51" width="2.0" height="2.0" fill="#FFC000"/>
<rect x="520.78" y="286.52" width="2.0" height="2.0" fill="#FFC000"/>
<path d="M306.82 206.12 L320.25 217.46 L333.69 224.02 L347.12 231.58 L360.56 241.40 L373.99 251.23 L387.43 260.30 L400.86 265.60 L414.30 269.38 L427.74 271.90 L441.17 273.91 L454.61 275.93 L468.04 277.19 L481.48 279.20 L494.91 282.48 L508.35 284.75 L521.78 287.52" fill="none" stroke="#ED7D31" stroke-width="0.75"/>
<rect x="305.82" y="205.12" width="2.0" height="2.0" fill="#ED7D31"/>
<rect x="319.25" y="216.46" width="2.0" height="2.0" fill="#ED7D31"/>
<rect x="332.69" y="223.02" width="2.0" height="2.0" fill="#ED7D31"/>
<rect x="346.12" y="230.58" width="2.0" height="2.0" fill="#ED7D31"/>
<rect x="359.56" y="240.40" width="2.0" height="2.0" fill="#ED7D31"/>
<rect x="372.99" y="250.23" width="2.0" height="2.0" fill="#ED7D31"/>
<rect x="386.43" y="259.30" width="2.0" height="2.0" fill="#ED7D31"/>
<rect x="399.86" y="264.60" width="2.0" height="2.0" fill="#ED7D31"/>
<rect x="413.30" y="268.38" width="2.0" height="2.0" fill="#ED7D31"/>
<rect x="426.74" y="270.90" width="2.0" height="2.0" fill="#ED7D31"/>
<rect x="440.17" y="272.91" width="2.0" height="2.0" fill="#ED7D31"/>
<rect x="453.61" y="274.93" width="2.0" height="2.0" fill="#ED7D31"/>
<rect x="467.04" y="276.19" width="2.0" height="2.0" fill="#ED7D31"/>
<rect x="480.48" y="278.20" width="2.0" height="2.0" fill="#ED7D31"/>
<rect x="493.91" y="281.48" width="2.0" height="2.0" fill="#ED7D31"/>
<rect x="507.35" y="283.75" width="2.0" height="2.0" fill="#ED7D31"/>
<rect x="520.78" y="286.52" width="2.0" height="2.0" fill="#ED7D31"/>
<path d="M306.82 203.35 L320.25 213.68 L333.69 218.72 L347.12 225.78 L360.56 233.09 L373.99 241.40 L387.43 250.73 L400.86 257.28 L414.30 262.32 L427.74 266.10 L441.17 268.62 L454.61 271.64 L468.04 272.90 L481.48 277.19 L494.91 280.21 L508.35 286.51 L521.78 288.02" fill="none" stroke="#4A7FD4" stroke-width="0.75"/>
<rect x="305.82" y="202.35" width="2.0" height="2.0" fill="#3F76CF"/>
<rect x="319.25" y="212.68" width="2.0" height="2.0" fill="#3F76CF"/>
<rect x="332.69" y="217.72" width="2.0" height="2.0" fill="#3F76CF"/>
<rect x="346.12" y="224.78" width="2.0" height="2.0" fill="#3F76CF"/>
<rect x="359.56" y="232.09" width="2.0" height="2.0" fill="#3F76CF"/>
<rect x="372.99" y="240.40" width="2.0" height="2.0" fill="#3F76CF"/>
<rect x="386.43" y="249.73" width="2.0" height="2.0" fill="#3F76CF"/>
<rect x="399.86" y="256.28" width="2.0" height="2.0" fill="#3F76CF"/>
<rect x="413.30" y="261.32" width="2.0" height="2.0" fill="#3F76CF"/>
<rect x="426.74" y="265.10" width="2.0" height="2.0" fill="#3F76CF"/>
<rect x="440.17" y="267.62" width="2.0" height="2.0" fill="#3F76CF"/>
<rect x="453.61" y="270.64" width="2.0" height="2.0" fill="#3F76CF"/>
<rect x="467.04" y="271.90" width="2.0" height="2.0" fill="#3F76CF"/>
<rect x="480.48" y="276.19" width="2.0" height="2.0" fill="#3F76CF"/>
<rect x="493.91" y="279.21" width="2.0" height="2.0" fill="#3F76CF"/>
<rect x="507.35" y="285.51" width="2.0" height="2.0" fill="#3F76CF"/>
<rect x="520.78" y="287.02" width="2.0" height="2.0" fill="#3F76CF"/>
<path d="M306.82 231.58 L320.25 241.66 L333.69 249.22 L347.12 265.09 L360.56 269.12 L373.99 274.42 L387.43 277.69 L400.86 279.96 L414.30 281.47 L427.74 282.73 L441.17 284.24 L454.61 285.00 L468.04 285.76 L481.48 286.51 L494.91 287.52 L508.35 288.53 L521.78 289.28" fill="none" stroke="#2F5597" stroke-width="0.75"/>
<rect x="305.82" y="230.58" width="2.0" height="2.0" fill="#1F4A8F"/>
<rect x="319.25" y="240.66" width="2.0" height="2.0" fill="#1F4A8F"/>
<rect x="332.69" y="248.22" width="2.0" height="2.0" fill="#1F4A8F"/>
<rect x="346.12" y="264.09" width="2.0" height="2.0" fill="#1F4A8F"/>
<rect x="359.56" y="268.12" width="2.0" height="2.0" fill="#1F4A8F"/>
<rect x="372.99" y="273.42" width="2.0" height="2.0" fill="#1F4A8F"/>
<rect x="386.43" y="276.69" width="2.0" height="2.0" fill="#1F4A8F"/>
<rect x="399.86" y="278.96" width="2.0" height="2.0" fill="#1F4A8F"/>
<rect x="413.30" y="280.47" width="2.0" height="2.0" fill="#1F4A8F"/>
<rect x="426.74" y="281.73" width="2.0" height="2.0" fill="#1F4A8F"/>
<rect x="440.17" y="283.24" width="2.0" height="2.0" fill="#1F4A8F"/>
<rect x="453.61" y="284.00" width="2.0" height="2.0" fill="#1F4A8F"/>
<rect x="467.04" y="284.76" width="2.0" height="2.0" fill="#1F4A8F"/>
<rect x="480.48" y="285.51" width="2.0" height="2.0" fill="#1F4A8F"/>
<rect x="493.91" y="286.52" width="2.0" height="2.0" fill="#1F4A8F"/>
<rect x="507.35" y="287.53" width="2.0" height="2.0" fill="#1F4A8F"/>
<rect x="520.78" y="288.28" width="2.0" height="2.0" fill="#1F4A8F"/>
<path d="M306.82 215.70 L320.25 222.00 L333.69 228.80 L347.12 235.61 L360.56 241.40 L373.99 250.22 L387.43 258.04 L400.86 265.60 L414.30 268.37 L427.74 271.90 L441.17 273.91 L454.61 275.93 L468.04 277.19 L481.48 280.46 L494.91 283.49 L508.35 285.76 L521.78 288.02" fill="none" stroke="#636363" stroke-width="0.75"/>
<rect x="305.82" y="214.70" width="2.0" height="2.0" fill="#636363"/>
<rect x="319.25" y="221.00" width="2.0" height="2.0" fill="#636363"/>
<rect x="332.69" y="227.80" width="2.0" height="2.0" fill="#636363"/>
<rect x="346.12" y="234.61" width="2.0" height="2.0" fill="#636363"/>
<rect x="359.56" y="240.40" width="2.0" height="2.0" fill="#636363"/>
<rect x="372.99" y="249.22" width="2.0" height="2.0" fill="#636363"/>
<rect x="386.43" y="257.04" width="2.0" height="2.0" fill="#636363"/>
<rect x="399.86" y="264.60" width="2.0" height="2.0" fill="#636363"/>
<rect x="413.30" y="267.37" width="2.0" height="2.0" fill="#636363"/>
<rect x="426.74" y="270.90" width="2.0" height="2.0" fill="#636363"/>
<rect x="440.17" y="272.91" width="2.0" height="2.0" fill="#636363"/>
<rect x="453.61" y="274.93" width="2.0" height="2.0" fill="#636363"/>
<rect x="467.04" y="276.19" width="2.0" height="2.0" fill="#636363"/>
<rect x="480.48" y="279.46" width="2.0" height="2.0" fill="#636363"/>
<rect x="493.91" y="282.49" width="2.0" height="2.0" fill="#636363"/>
<rect x="507.35" y="284.76" width="2.0" height="2.0" fill="#636363"/>
<rect x="520.78" y="287.02" width="2.0" height="2.0" fill="#636363"/>
<path d="M306.82 219.58 L320.25 227.29 L333.69 216.41 L347.12 211.87 L360.56 208.69 L373.99 207.33 L387.43 210.51 L400.86 211.42 L414.30 211.87 L427.74 213.68 L441.17 214.14 L454.61 214.59 L468.04 213.23 L481.48 212.78 L494.91 212.32 L508.35 210.51" fill="none" stroke="#5B9BD5" stroke-width="0.65" opacity="0.38"/>
<rect x="305.94" y="218.71" width="1.75" height="1.75" fill="#5B9BD5"/>
<rect x="319.38" y="226.42" width="1.75" height="1.75" fill="#5B9BD5"/>
<rect x="332.81" y="215.53" width="1.75" height="1.75" fill="#5B9BD5"/>
<rect x="346.25" y="210.99" width="1.75" height="1.75" fill="#5B9BD5"/>
<rect x="359.68" y="207.82" width="1.75" height="1.75" fill="#5B9BD5"/>
<rect x="373.12" y="206.46" width="1.75" height="1.75" fill="#5B9BD5"/>
<rect x="386.55" y="209.63" width="1.75" height="1.75" fill="#5B9BD5"/>
<rect x="399.99" y="210.54" width="1.75" height="1.75" fill="#5B9BD5"/>
<rect x="413.43" y="210.99" width="1.75" height="1.75" fill="#5B9BD5"/>
<rect x="426.86" y="212.81" width="1.75" height="1.75" fill="#5B9BD5"/>
<rect x="440.30" y="213.26" width="1.75" height="1.75" fill="#5B9BD5"/>
<rect x="453.73" y="213.72" width="1.75" height="1.75" fill="#5B9BD5"/>
<rect x="467.17" y="212.36" width="1.75" height="1.75" fill="#5B9BD5"/>
<rect x="480.60" y="211.90" width="1.75" height="1.75" fill="#5B9BD5"/>
<rect x="494.04" y="211.45" width="1.75" height="1.75" fill="#5B9BD5"/>
<rect x="507.47" y="209.63" width="1.75" height="1.75" fill="#5B9BD5"/>
<path d="M306.82 219.58 L320.25 217.31 L333.69 210.51 L347.12 207.33 L360.56 204.61 L373.99 204.61 L387.43 205.97 L400.86 207.33 L414.30 208.69 L427.74 208.69 L441.17 207.79 L454.61 207.79 L468.04 207.79 L481.48 207.79 L494.91 207.33 L508.35 207.33 L521.78 208.69" fill="none" stroke="#A5A5A5" stroke-width="0.65" opacity="0.38"/>
<rect x="305.94" y="218.71" width="1.75" height="1.75" fill="#A5A5A5"/>
<rect x="319.38" y="216.44" width="1.75" height="1.75" fill="#A5A5A5"/>
<rect x="332.81" y="209.63" width="1.75" height="1.75" fill="#A5A5A5"/>
<rect x="346.25" y="206.46" width="1.75" height="1.75" fill="#A5A5A5"/>
<rect x="359.68" y="203.74" width="1.75" height="1.75" fill="#A5A5A5"/>
<rect x="373.12" y="203.74" width="1.75" height="1.75" fill="#A5A5A5"/>
<rect x="386.55" y="205.10" width="1.75" height="1.75" fill="#A5A5A5"/>
<rect x="399.99" y="206.46" width="1.75" height="1.75" fill="#A5A5A5"/>
<rect x="413.43" y="207.82" width="1.75" height="1.75" fill="#A5A5A5"/>
<rect x="426.86" y="207.82" width="1.75" height="1.75" fill="#A5A5A5"/>
<rect x="440.30" y="206.91" width="1.75" height="1.75" fill="#A5A5A5"/>
<rect x="453.73" y="206.91" width="1.75" height="1.75" fill="#A5A5A5"/>
<rect x="467.17" y="206.91" width="1.75" height="1.75" fill="#A5A5A5"/>
<rect x="480.60" y="206.91" width="1.75" height="1.75" fill="#A5A5A5"/>
<rect x="494.04" y="206.46" width="1.75" height="1.75" fill="#A5A5A5"/>
<rect x="507.47" y="206.46" width="1.75" height="1.75" fill="#A5A5A5"/>
<rect x="520.91" y="207.82" width="1.75" height="1.75" fill="#A5A5A5"/>
<path d="M306.82 219.13 L320.25 221.85 L333.69 214.14 L347.12 209.15 L360.56 206.43 L373.99 204.61 L387.43 205.97 L400.86 207.33 L414.30 208.69 L427.74 209.60 L441.17 210.96 L454.61 210.96 L468.04 210.06 L481.48 209.60 L494.91 209.60 L508.35 209.83" fill="none" stroke="#70AD47" stroke-width="0.65" opacity="0.38"/>
<rect x="305.94" y="218.25" width="1.75" height="1.75" fill="#70AD47"/>
<rect x="319.38" y="220.97" width="1.75" height="1.75" fill="#70AD47"/>
<rect x="332.81" y="213.26" width="1.75" height="1.75" fill="#70AD47"/>
<rect x="346.25" y="208.27" width="1.75" height="1.75" fill="#70AD47"/>
<rect x="359.68" y="205.55" width="1.75" height="1.75" fill="#70AD47"/>
<rect x="373.12" y="203.74" width="1.75" height="1.75" fill="#70AD47"/>
<rect x="386.55" y="205.10" width="1.75" height="1.75" fill="#70AD47"/>
<rect x="399.99" y="206.46" width="1.75" height="1.75" fill="#70AD47"/>
<rect x="413.43" y="207.82" width="1.75" height="1.75" fill="#70AD47"/>
<rect x="426.86" y="208.73" width="1.75" height="1.75" fill="#70AD47"/>
<rect x="440.30" y="210.09" width="1.75" height="1.75" fill="#70AD47"/>
<rect x="453.73" y="210.09" width="1.75" height="1.75" fill="#70AD47"/>
<rect x="467.17" y="209.18" width="1.75" height="1.75" fill="#70AD47"/>
<rect x="480.60" y="208.73" width="1.75" height="1.75" fill="#70AD47"/>
<rect x="494.04" y="208.73" width="1.75" height="1.75" fill="#70AD47"/>
<rect x="507.47" y="208.95" width="1.75" height="1.75" fill="#70AD47"/>
<path d="M306.82 225.02 L320.25 239.09 L333.69 224.12 L347.12 214.59 L360.56 213.68 L373.99 210.06 L387.43 210.06 L400.86 208.69 L414.30 208.24 L427.74 208.69 L441.17 207.79 L454.61 206.88 L468.04 206.88 L481.48 207.79 L494.91 205.52 L508.35 205.52 L521.78 205.75" fill="none" stroke="#C55A11" stroke-width="0.65" opacity="0.38"/>
<rect x="305.94" y="224.15" width="1.75" height="1.75" fill="#C55A11"/>
<rect x="319.38" y="238.21" width="1.75" height="1.75" fill="#C55A11"/>
<rect x="332.81" y="223.24" width="1.75" height="1.75" fill="#C55A11"/>
<rect x="346.25" y="213.72" width="1.75" height="1.75" fill="#C55A11"/>
<rect x="359.68" y="212.81" width="1.75" height="1.75" fill="#C55A11"/>
<rect x="373.12" y="209.18" width="1.75" height="1.75" fill="#C55A11"/>
<rect x="386.55" y="209.18" width="1.75" height="1.75" fill="#C55A11"/>
<rect x="399.99" y="207.82" width="1.75" height="1.75" fill="#C55A11"/>
<rect x="413.43" y="207.37" width="1.75" height="1.75" fill="#C55A11"/>
<rect x="426.86" y="207.82" width="1.75" height="1.75" fill="#C55A11"/>
<rect x="440.30" y="206.91" width="1.75" height="1.75" fill="#C55A11"/>
<rect x="453.73" y="206.00" width="1.75" height="1.75" fill="#C55A11"/>
<rect x="467.17" y="206.00" width="1.75" height="1.75" fill="#C55A11"/>
<rect x="480.60" y="206.91" width="1.75" height="1.75" fill="#C55A11"/>
<rect x="494.04" y="204.64" width="1.75" height="1.75" fill="#C55A11"/>
<rect x="507.47" y="204.64" width="1.75" height="1.75" fill="#C55A11"/>
<rect x="520.91" y="204.87" width="1.75" height="1.75" fill="#C55A11"/>
<path d="M306.82 220.49 L320.25 229.56 L333.69 218.22 L347.12 214.14 L360.56 210.51 L373.99 210.06 L387.43 210.51 L400.86 213.23 L414.30 215.04 L427.74 217.77 L441.17 219.13 L454.61 220.94 L468.04 221.85 L481.48 224.12 L494.91 225.02 L508.35 220.03 L521.78 215.95" fill="none" stroke="#B08200" stroke-width="0.65" opacity="0.38"/>
<rect x="305.94" y="219.61" width="1.75" height="1.75" fill="#B08200"/>
<rect x="319.38" y="228.69" width="1.75" height="1.75" fill="#B08200"/>
<rect x="332.81" y="217.34" width="1.75" height="1.75" fill="#B08200"/>
<rect x="346.25" y="213.26" width="1.75" height="1.75" fill="#B08200"/>
<rect x="359.68" y="209.63" width="1.75" height="1.75" fill="#B08200"/>
<rect x="373.12" y="209.18" width="1.75" height="1.75" fill="#B08200"/>
<rect x="386.55" y="209.63" width="1.75" height="1.75" fill="#B08200"/>
<rect x="399.99" y="212.36" width="1.75" height="1.75" fill="#B08200"/>
<rect x="413.43" y="214.17" width="1.75" height="1.75" fill="#B08200"/>
<rect x="426.86" y="216.89" width="1.75" height="1.75" fill="#B08200"/>
<rect x="440.30" y="218.25" width="1.75" height="1.75" fill="#B08200"/>
<rect x="453.73" y="220.07" width="1.75" height="1.75" fill="#B08200"/>
<rect x="467.17" y="220.97" width="1.75" height="1.75" fill="#B08200"/>
<rect x="480.60" y="223.24" width="1.75" height="1.75" fill="#B08200"/>
<rect x="494.04" y="224.15" width="1.75" height="1.75" fill="#B08200"/>
<rect x="507.47" y="219.16" width="1.75" height="1.75" fill="#B08200"/>
<rect x="520.91" y="215.08" width="1.75" height="1.75" fill="#B08200"/>
<text class="lab" transform="translate(323.30 284.80) scale(0.85 1)" text-anchor="middle">c</text>
<path d="M107.3 192.90H118" stroke="#FFC000" stroke-width="0.7"/>
<rect x="111.85" y="191.95" width="1.9" height="1.9" fill="#FFC000" transform="rotate(45 112.8 192.90)"/>
<text transform="translate(120.60 195.60) scale(0.95 1)" class="leg">F1</text>
<path d="M107.3 204.05H118" stroke="#ED7D31" stroke-width="0.7"/>
<rect x="111.85" y="203.10" width="1.9" height="1.9" fill="#ED7D31" transform="rotate(45 112.8 204.05)"/>
<text transform="translate(120.60 206.75) scale(0.95 1)" class="leg">F2</text>
<path d="M107.3 215.20H118" stroke="#4A7FD4" stroke-width="0.7"/>
<rect x="111.85" y="214.25" width="1.9" height="1.9" fill="#3F76CF" transform="rotate(45 112.8 215.20)"/>
<text transform="translate(120.60 217.90) scale(0.95 1)" class="leg">F3</text>
<path d="M107.3 226.35H118" stroke="#2F5597" stroke-width="0.7"/>
<rect x="111.85" y="225.40" width="1.9" height="1.9" fill="#1F4A8F" transform="rotate(45 112.8 226.35)"/>
<text transform="translate(120.60 229.05) scale(0.95 1)" class="leg">F4</text>
<path d="M107.3 237.50H118" stroke="#636363" stroke-width="0.7"/>
<rect x="111.85" y="236.55" width="1.9" height="1.9" fill="#636363" transform="rotate(45 112.8 237.50)"/>
<text transform="translate(120.60 240.20) scale(0.95 1)" class="leg">F5</text>
<path d="M107.6 248.65H110 M116.6 248.65H119" stroke="#5B9BD5" stroke-width="1.1" opacity="0.55"/>
<rect x="112.00" y="247.55" width="2.2" height="2.2" fill="#5B9BD5" transform="rotate(45 113.1 248.65)"/>
<text transform="translate(120.60 251.35) scale(0.95 1)" class="leg">F1 temp</text>
<path d="M107.6 259.80H110 M116.6 259.80H119" stroke="#A5A5A5" stroke-width="1.1" opacity="0.55"/>
<rect x="112.00" y="258.70" width="2.2" height="2.2" fill="#A5A5A5" transform="rotate(45 113.1 259.80)"/>
<text transform="translate(120.60 262.50) scale(0.95 1)" class="leg">F2 temp</text>
<path d="M107.6 270.95H110 M116.6 270.95H119" stroke="#70AD47" stroke-width="1.1" opacity="0.55"/>
<rect x="112.00" y="269.85" width="2.2" height="2.2" fill="#70AD47" transform="rotate(45 113.1 270.95)"/>
<text transform="translate(120.60 273.65) scale(0.95 1)" class="leg">F3 temp</text>
<path d="M107.6 282.10H110 M116.6 282.10H119" stroke="#C55A11" stroke-width="1.1" opacity="0.55"/>
<rect x="112.00" y="281.00" width="2.2" height="2.2" fill="#C55A11" transform="rotate(45 113.1 282.10)"/>
<text transform="translate(120.60 284.80) scale(0.95 1)" class="leg">F4 temp</text>
<path d="M107.6 293.25H110 M116.6 293.25H119" stroke="#B08200" stroke-width="1.1" opacity="0.55"/>
<rect x="112.00" y="292.15" width="2.2" height="2.2" fill="#B08200" transform="rotate(45 113.1 293.25)"/>
<text transform="translate(120.60 295.95) scale(0.95 1)" class="leg">F5 Temp</text>
</svg>
</body></html>
